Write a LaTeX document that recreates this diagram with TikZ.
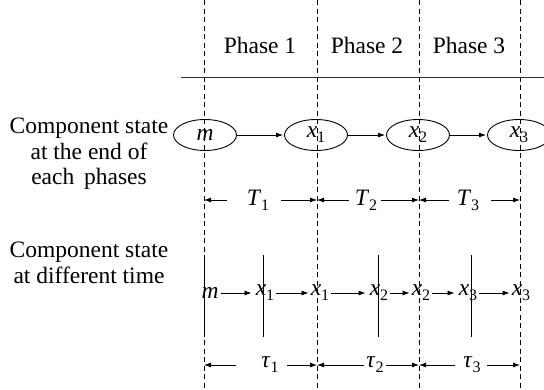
\documentclass[tikz,border=0pt]{standalone}
\usepackage{fontspec}
\setmainfont{Liberation Serif}
\usetikzlibrary{arrows.meta,shapes.geometric}
\newcommand\vv[2]{\textit{#1}\raisebox{-0.45ex}{\fontsize{16}{16}\selectfont #2}}
\begin{document}
\begin{tikzpicture}[x=1pt,y=-1pt,
  txt/.style={font=\fontsize{23.5}{25}\selectfont, inner sep=0pt},
  lbl/.style={font=\fontsize{23.5}{25.5}\selectfont, align=center, inner sep=0pt},
  st/.style={draw, ellipse, minimum width=63pt, minimum height=31pt, inner sep=0pt, line width=0.9pt, font=\fontsize{23.5}{25}\selectfont},
  arr/.style={-{Latex[length=7pt,width=5pt]}, line width=0.8pt, shorten >=1pt},
  phase/.style={dashed, dash pattern=on 5pt off 3.5pt, line width=0.9pt},
  tick/.style={line width=0.9pt},
  dim/.style={-{Latex[length=7pt,width=5pt]}, line width=0.8pt}]
\useasboundingbox (0,0) rectangle (544,389);
\clip (0,0) rectangle (544,389);
% phase boundaries
\foreach \n/\x in {d0/204,d1/317,d2/419,d3/520}{
  \coordinate (\n t) at (\x,0);
  \coordinate (\n b) at (\x,389);
  \draw[phase] (\n t) -- (\n b);
}
% header
\coordinate (hl) at (181,77);
\coordinate (hr) at (544,77);
\draw[line width=0.9pt, black!80] (hl) -- (hr);
\node[txt] (p1) at (260,45) {Phase 1};
\node[txt] (p2) at (367,45) {Phase 2};
\node[txt] (p3) at (469,45) {Phase 3};
% left labels
\node[lbl] (l1) at (89,154) {Component state\\at the end of\\each\, phases};
\node[lbl] (l2) at (89,263) {Component state\\at different time};
% ellipses
\node[st] (e0) at (205,135) {\textit{m}};
\node[st] (e1) at (316,135) {\vv{x}{1}};
\node[st] (e2) at (418,135) {\vv{x}{2}};
\node[st] (e3) at (519,135) {\vv{x}{3}};
\draw[arr] (e0) -- (e1);
\draw[arr] (e1) -- (e2);
\draw[arr] (e2) -- (e3);
% T dimension row
\coordinate (a0) at (204,200);
\coordinate (a1) at (317,200);
\coordinate (a2) at (419,200);
\coordinate (a3) at (520,200);
\node[txt] (T1) at (258,200) {\vv{T}{1}};
\node[txt] (T2) at (366,200) {\vv{T}{2}};
\node[txt] (T3) at (468,200) {\vv{T}{3}};
\draw[dim] ([xshift=-20pt]T1.west) -- (a0);
\draw[dim] ([xshift=12pt]T1.east) -- (a1);
\draw[dim] ([xshift=-6pt]T2.west) -- (a1);
\draw[dim] ([xshift=4pt]T2.east) -- (a2);
\draw[dim] ([xshift=-8pt]T3.west) -- (a2);
\draw[dim] ([xshift=12pt]T3.east) -- (a3);
% time row vertical ticks
\foreach \n/\x in {v0/204,v1/263,v2/378,v3/471}{
  \coordinate (\n t) at (\x,255);
  \coordinate (\n b) at (\x,337);
  \draw[tick] (\n t) -- (\n b);
}
% time row states
\node[txt] (s0) at (210,293) {\textit{m}};
\node[txt] (s1) at (265,293) {\vv{x}{1}};
\node[txt] (s2) at (320,293) {\vv{x}{1}};
\node[txt] (s3) at (379,293) {\vv{x}{2}};
\node[txt] (s4) at (421,293) {\vv{x}{2}};
\node[txt] (s5) at (468,293) {\vv{x}{3}};
\node[txt] (s6) at (521,293) {\vv{x}{3}};
\draw[arr] ([xshift=2pt]s0.east) -- ([xshift=-3pt]s1.west);
\draw[arr] ([xshift=2pt]s1.east) -- ([xshift=-1pt]s2.west);
\draw[arr] ([xshift=2pt]s2.east) -- ([xshift=-3pt]s3.west);
\draw[arr] ([xshift=2pt]s3.east) -- ([xshift=-1pt]s4.west);
\draw[arr] ([xshift=2pt]s4.east) -- ([xshift=-3pt]s5.west);
\draw[arr] ([xshift=2pt]s5.east) -- ([xshift=-1pt]s6.west);
% tau dimension row
\coordinate (b0) at (204,365);
\coordinate (b1) at (317,365);
\coordinate (b2) at (419,365);
\coordinate (b3) at (520,365);
\node[txt] (t1) at (270,365) {\vv{τ}{1}};
\node[txt] (t2) at (375,365) {\vv{τ}{2}};
\node[txt] (t3) at (472,365) {\vv{τ}{3}};
\draw[dim] ([xshift=-25pt]t1.west) -- (b0);
\draw[dim] ([xshift=8pt]t1.east) -- (b1);
\draw[dim] ([xshift=-2pt]t2.west) -- (b1);
\draw[dim] ([xshift=2pt]t2.east) -- (b2);
\draw[dim] ([xshift=-8pt]t3.west) -- (b2);
\draw[dim] ([xshift=6pt]t3.east) -- (b3);
\end{tikzpicture}
\end{document}
